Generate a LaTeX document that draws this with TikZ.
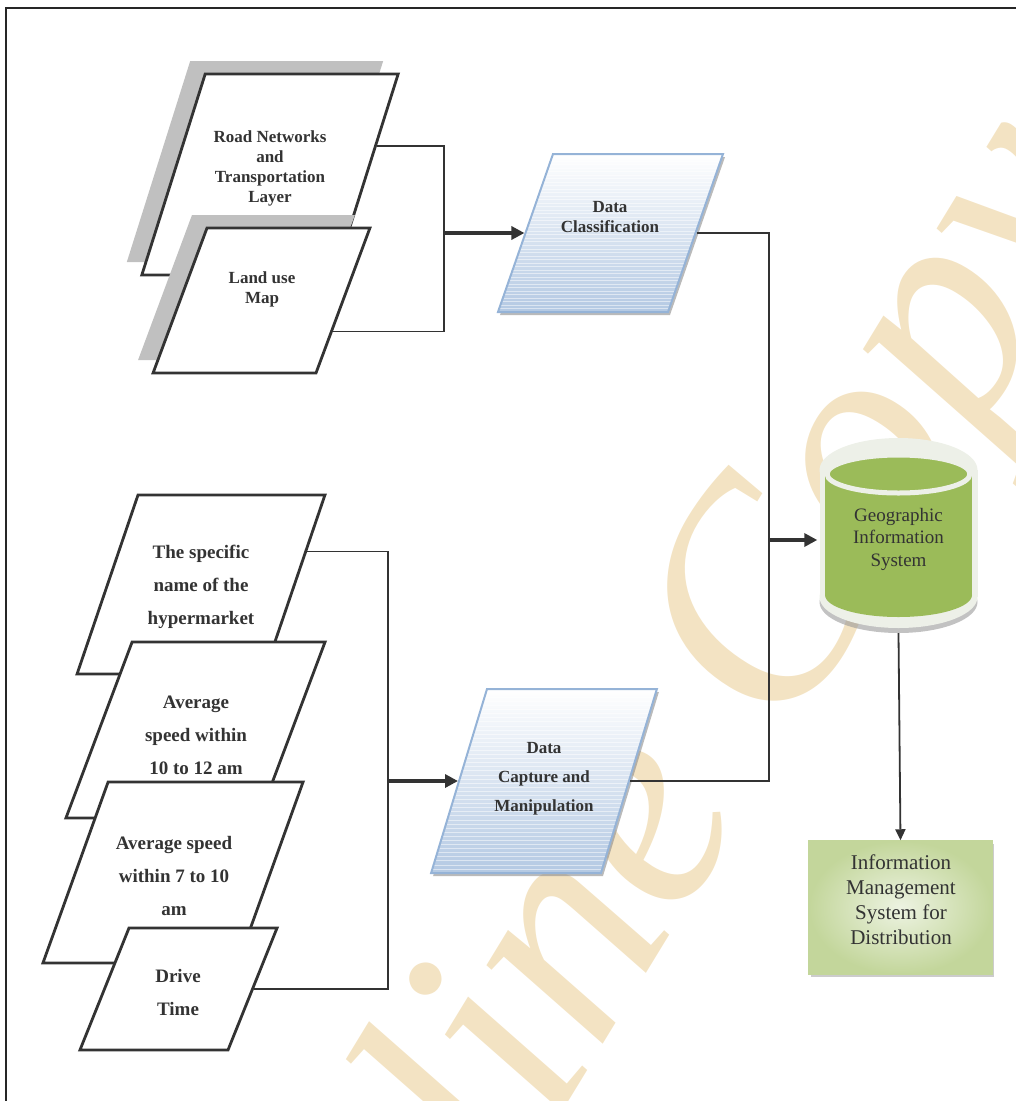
\documentclass[tikz,border=0pt]{standalone}
\usepackage{fontspec}
\setmainfont{Liberation Serif}
\usepackage{tikz}
\usetikzlibrary{positioning,arrows.meta,calc,shapes.geometric,shadows}
\definecolor{ink}{HTML}{333333}
\definecolor{greyback}{HTML}{C0C0C0}
\definecolor{procline}{HTML}{95B3D7}
\definecolor{procfill}{HTML}{B4C9E3}
\definecolor{gisfill}{HTML}{9BBB59}
\definecolor{gisrim}{HTML}{EDF0E8}
\definecolor{imsin}{HTML}{EDF3E2}
\definecolor{imsout}{HTML}{C3D69B}
\definecolor{wmark}{HTML}{F3E3C3}

\begin{document}
\begin{tikzpicture}[x=1pt, y=-1pt,
  slab/.style 2 args={trapezium, trapezium left angle=#1, trapezium right angle=#2,
    draw=ink, line width=2.8pt, fill=white, inner sep=0pt, text depth=0pt},
  backed/.style={drop shadow={shadow xshift=-15pt, shadow yshift=13pt, fill=greyback, opacity=1}},
  proc/.style 2 args={trapezium, trapezium left angle=#1, trapezium right angle=#2,
    draw=procline, line width=2pt, inner sep=0pt, text depth=0pt,
    top color=white, bottom color=procfill,
    drop shadow={shadow xshift=2pt, shadow yshift=-3pt, fill=black!45, opacity=.6},
    path picture={\foreach \k in {1,...,44}{
      \draw[white, opacity=.5, line width=.6pt]
        ($(path picture bounding box.north west)!\k/45!(path picture bounding box.south west)$) -- ++(300,0);}}},
  lbl/.style={align=center, text=ink, font=\bfseries\fontsize{#1}{#1}\selectfont},
  link/.style={line width=1.2pt, ink},
  flow/.style={line width=3.5pt, ink, -{Triangle[length=13pt, width=13pt]}},
  down/.style={line width=1.8pt, ink, -{Triangle[length=11pt, width=10pt]}}]
\useasboundingbox (0,0) rectangle (1016,1101);
% watermark
\node[rotate=58.6, anchor=base, text=wmark, font=\itshape\fontsize{305}{305}\selectfont] (wm) at (719,855) {Online Copy};
% frame
\draw[line width=2.8pt, black!85] (6,8) rectangle (1040,1130);
% map layers
\node[slab={72.5}{107.5}, backed, text width=129.6pt, text height=201pt] (road) at (270,174.5) {};
\node[lbl=17] (road-t) at (270,168) {Road Networks\\[3pt]and\\[3pt]Transportation\\[3pt]Layer};
\node[slab={69.6}{110.4}, backed, text width=109pt, text height=145pt] (land) at (261.5,300.5) {};
\node[lbl=17] (land-t) at (262,289) {Land use\\[3pt]Map};
% attribute layers
\node[slab={71.2}{108.8}, text width=126pt, text height=179pt] (spec) at (201,584.5) {};
\node[lbl=19] (spec-t) at (201,587) {The specific\\[14pt]name of the\\[14pt]hypermarket};
\node[slab={69.4}{110.6}, text width=126.8pt, text height=176pt] (avgb) at (195.5,730) {};
\node[lbl=19] (avgb-t) at (196,735) {Average\\[14pt]speed within\\[14pt]10 to 12 am};
\node[slab={70.2}{109.8}, text width=129.8pt, text height=181pt] (avga) at (173,872.5) {};
\node[lbl=19] (avga-t) at (174,876) {Average speed\\[14pt]within 7 to 10\\[14pt]am};
\node[slab={68.1}{111.9}, text width=99pt, text height=122pt] (drive) at (178.5,989) {};
\node[lbl=19] (drive-t) at (178,992) {Drive\\[14pt]Time};
% processing
\node[proc={70.8}{109.2}, text width=115pt, text height=158pt] (dc) at (610.5,233) {};
\node[lbl=17] (dc-t) at (610,217) {Data\\[3pt]Classification};
\node[proc={73.1}{106.9}, text width=114pt, text height=184pt] (cap) at (544,781) {};
\node[lbl=17] (cap-t) at (544,779) {Data\\[12pt]Capture and\\[12pt]Manipulation};
% gis cylinder
\fill[black!40, opacity=.6] (898.5,602) ellipse (79 and 31);
\fill[gisrim] (819.5,470) rectangle (977.5,597);
\fill[gisrim] (898.5,597) ellipse (79 and 31);
\fill[gisrim] (898.5,470) ellipse (79 and 32);
\fill[gisfill] (825,474) rectangle (972,595);
\fill[gisfill] (898.5,595) ellipse (73.5 and 22);
\draw[gisrim, line width=5pt, fill=gisfill] (898.5,474) ellipse (71.5 and 19);
\node[align=center, text=ink, font=\fontsize{19}{22.5}\selectfont, minimum width=162, minimum height=188, inner sep=0pt] (gis) at (898.5,539) {Geographic\\Information\\System};
% output
\node[draw=imsout, line width=1.5pt, minimum width=183, minimum height=133, inner color=imsin, outer color=imsout,
  drop shadow={shadow xshift=2pt, shadow yshift=-3pt, fill=black!40, opacity=.5}] (ims) at (900.5,907.5) {};
\node[align=center, text=ink, font=\fontsize{21}{25}\selectfont] (ims-t) at (901,900) {Information\\Management\\System for\\Distribution};
% connectors
\coordinate (busa) at (444,233);
\coordinate (busb) at (388,784);
\coordinate (busc) at (769,540);
\draw[link] ($(road.top right corner)!0.36!(road.bottom right corner)$) -| (busa) |- ($(land.top right corner)!0.71!(land.bottom right corner)$);
\draw[flow] (busa |- dc.west) -- (dc.west);
\draw[link] ($(spec.top right corner)!0.32!(spec.bottom right corner)$) -| (busb) |- (drive.east);
\draw[flow] (busb |- cap.west) -- (cap.west);
\draw[link] (dc.east) -| (busc) |- (cap.east);
\draw[flow] (busc) -- (busc -| gis.west);
\draw[down] (gis.south) -- (ims.north);
\end{tikzpicture}
\end{document}
